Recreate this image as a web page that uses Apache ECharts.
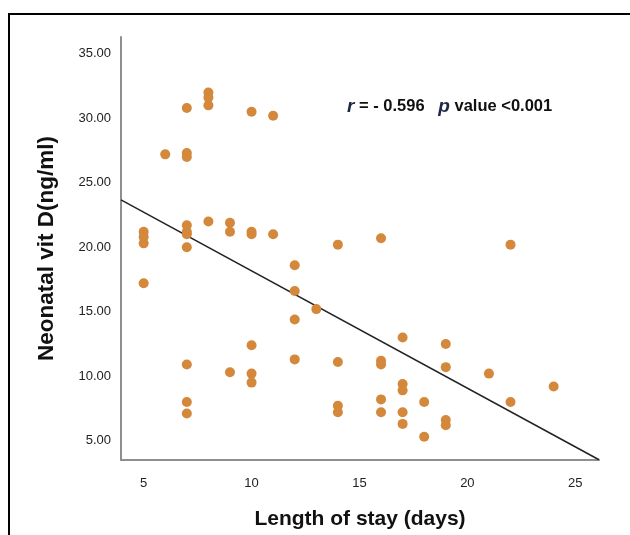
<!DOCTYPE html>
<html><head><meta charset="utf-8">
<script src="https://cdn.jsdelivr.net/npm/echarts@6/dist/echarts.min.js"></script>
<style>html,body{margin:0;padding:0;background:#fff}#c{width:630px;height:535px}</style>
</head><body><div id="c"></div>
<script>
// Length of stay (days) for each neonate
const stayDays = [
  5,5,5,5,
  6,
  7,7,7,7,7,7,7,7,7,7,
  8,8,8,8,
  9,9,9,
  10,10,10,10,10,10,
  11,11,
  12,12,12,12,
  13,
  14,14,14,14,
  16,16,16,16,16,
  17,17,17,17,17,
  18,18,
  19,19,19,19,
  21,
  22,22,
  24
];
// Neonatal vitamin D (ng/ml)
const vitD = [
  21.2,20.8,20.3,17.2,
  27.2,
  30.8,27.3,27.0,21.7,21.2,21.0,20.0,10.9,8.0,7.1,
  32.0,31.6,31.0,22.0,
  21.9,21.2,10.3,
  30.5,21.2,21.0,12.4,10.2,9.5,
  30.2,21.0,
  18.6,16.6,14.4,11.3,
  15.2,
  20.2,11.1,7.7,7.2,
  20.7,11.2,10.9,8.2,7.2,
  13.0,9.4,8.9,7.2,6.3,
  8.0,5.3,
  12.5,10.7,6.6,6.2,
  10.2,
  20.2,8.0,
  9.2
];
const xTicks = [5, 10, 15, 20, 25];
const yTicks = [5, 10, 15, 20, 25, 30, 35];
const xRange = [3.95, 26.1];
const yRange = [3.5, 36.3];
// fitted regression line: vitD = intercept + slope * days
const fitIntercept = 27.27;
const fitSlope = -0.91;
const rText = '- 0.596';
const pText = '<0.001';

const points = stayDays.map((d, i) => [d, vitD[i]]);
const fitLine = xRange.map(x => [x, fitIntercept + fitSlope * x]);

const FONT = "'Liberation Sans', Arial, sans-serif";
const chart = echarts.init(document.getElementById('c'), null, {renderer: 'canvas'});
chart.setOption({
  animation: false,
  backgroundColor: '#fff',
  grid: {left: 121, right: 31, top: 37, bottom: 75, outerBoundsMode: 'none', containLabel: false},
  title: {
    left: 347, top: 97, padding: 0,
    text: '{i|r}{b| = ' + rText + '   }{i|p}{b| value ' + pText + '}',
    textStyle: {
      rich: {
        i: {fontFamily: FONT, fontStyle: 'italic', fontWeight: 'bold', fontSize: 19, color: '#1d2846'},
        b: {fontFamily: FONT, fontWeight: 'bold', fontSize: 16.5, color: '#111'}
      }
    }
  },
  graphic: [{
    type: 'rect', silent: true, z: 100,
    shape: {x: 9, y: 14, width: 700, height: 600},
    style: {fill: 'none', stroke: '#000', lineWidth: 2}
  }],
  xAxis: {
    type: 'value', min: xRange[0], max: xRange[1],
    name: 'Length of stay (days)', nameLocation: 'middle', nameGap: 49,
    nameTextStyle: {fontFamily: FONT, fontWeight: 'bold', fontSize: 21, color: '#111'},
    axisLine: {show: true, lineStyle: {color: '#8f8f8f', width: 2}},
    axisTick: {show: false},
    splitLine: {show: false},
    axisLabel: {customValues: xTicks, fontFamily: FONT, fontSize: 13, color: '#222', margin: 17}
  },
  yAxis: {
    type: 'value', min: yRange[0], max: yRange[1],
    name: 'Neonatal vit D(ng/ml)', nameLocation: 'middle', nameGap: 63,
    nameTextStyle: {fontFamily: FONT, fontWeight: 'bold', fontSize: 22.5, color: '#111'},
    axisLine: {show: true, lineStyle: {color: '#8f8f8f', width: 2}},
    axisTick: {show: false},
    splitLine: {show: false},
    axisLabel: {customValues: yTicks, fontFamily: FONT, fontSize: 13, color: '#222', margin: 10,
      formatter: v => v.toFixed(2)}
  },
  series: [{
    type: 'scatter', data: points, symbolSize: 10,
    itemStyle: {color: '#d4883b', opacity: 1}, z: 3
  }, {
    type: 'line', data: fitLine, symbol: 'none', silent: true, z: 2,
    lineStyle: {color: '#222', width: 1.5}
  }]
});
</script></body></html>
